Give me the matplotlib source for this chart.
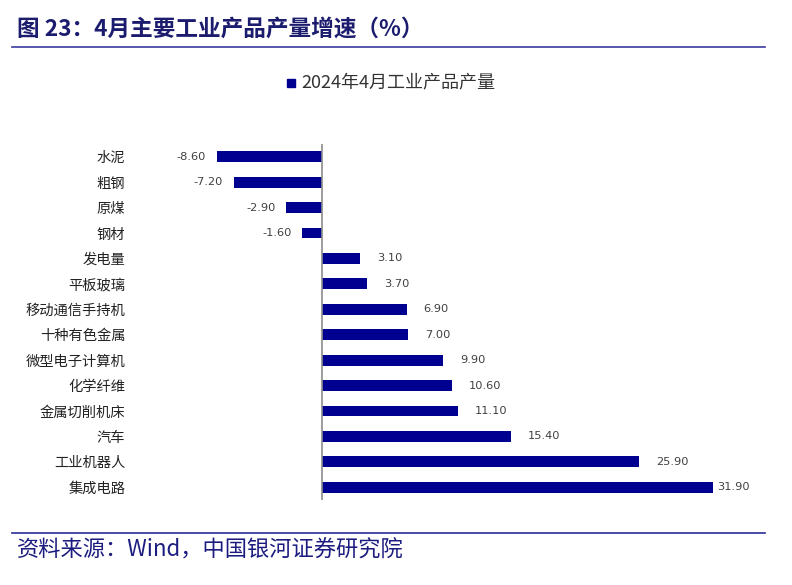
import matplotlib
matplotlib.use("Agg")
import matplotlib.pyplot as plt
from matplotlib.lines import Line2D

plt.rcParams['font.family'] = ['Noto Sans CJK SC', 'DejaVu Sans']

categories = ["水泥", "粗钢", "原煤", "钢材", "发电量", "平板玻璃", "移动通信手持机",
              "十种有色金属", "微型电子计算机", "化学纤维", "金属切削机床", "汽车",
              "工业机器人", "集成电路"]
values = [-8.60, -7.20, -2.90, -1.60, 3.10, 3.70, 6.90, 7.00, 9.90, 10.60, 11.10,
          15.40, 25.90, 31.90]
series_name = "2024年4月工业产品产量"
title = "图 23：4月主要工业产品产量增速（%）"
source = "资料来源：Wind，中国银河证券研究院"

W, H = 792, 585
fig = plt.figure(figsize=(W / 100, H / 100), dpi=100)

# axes in pixel terms
ax_l, ax_r, ax_t, ax_b = 160, 760, 144, 500
ax = fig.add_axes([ax_l / W, 1 - ax_b / H, (ax_r - ax_l) / W, (ax_b - ax_t) / H])
zero_px = 322
scale = (713 - 322) / 31.9
ax.set_xlim((ax_l - zero_px) / scale, (ax_r - zero_px) / scale)
ax.set_ylim(len(categories) - 0.5, -0.5)

bar_color = "#000090"
ypos = list(range(len(categories)))
ax.barh(ypos, values, height=0.43, color=bar_color, zorder=2)
ax.axvline(0, color="#8c8c8c", lw=1.2, zorder=3)

for y, v in zip(ypos, values):
    if v < 0:
        ax.text(v - 0.9, y, f"{v:.2f}", ha="right", va="center", fontsize=8.2,
                color="#404040", family=['DejaVu Sans'])
    else:
        off = 0.3 if v > 30 else 1.4
        ax.text(v + off, y, f"{v:.2f}", ha="left", va="center", fontsize=8.2,
                color="#404040", family=['DejaVu Sans'])

ax.set_yticks(ypos)
ax.set_yticklabels(categories, fontsize=10.3, color="#222222")
ax.tick_params(axis='y', length=0, pad=25)
ax.set_xticks([])
for s in ax.spines.values():
    s.set_visible(False)

# title
fig.text(17 / W, 1 - 29 / H, title, fontsize=16.3, fontweight='bold',
         color="#1c1c6e", va="center", ha="left")
fig.add_artist(Line2D([12 / W, 765 / W], [1 - 47 / H, 1 - 47 / H],
                      color="#3a3aa0", lw=1.2))

# legend
fig.add_artist(plt.Rectangle((287 / W, 1 - 87 / H), 8 / W, 8 / H,
                             color=bar_color, transform=fig.transFigure))
fig.text(301 / W, 1 - 82 / H, series_name, fontsize=13, color="#333333",
         va="center", ha="left")

# footer
fig.add_artist(Line2D([12 / W, 765 / W], [1 - 533 / H, 1 - 533 / H],
                      color="#2a2a9a", lw=1.2))
fig.text(17 / W, 1 - 550 / H, source, fontsize=16, color="#1c1c80",
         va="center", ha="left", style="italic")

fig.savefig("out.png", dpi=100)
